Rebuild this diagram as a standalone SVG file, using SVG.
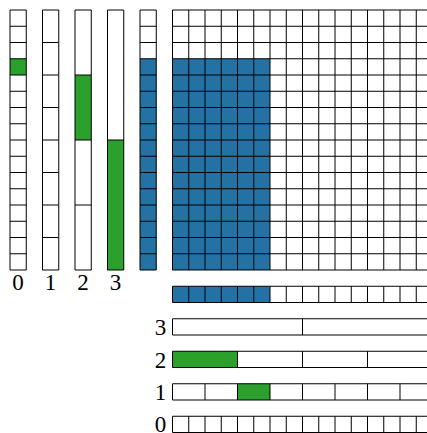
<svg xmlns="http://www.w3.org/2000/svg" width="427" height="433" viewBox="0 0 427 433">
<style>
.bg{fill:#fff;stroke:none}
.g{fill:#2ca02c;stroke:none}
.b{fill:#2471a3;stroke:none}
.ln{fill:none;stroke:#000;stroke-width:1}
.lbl{font-family:"Liberation Serif","Times New Roman",serif;font-size:23px;fill:#000;text-anchor:middle}
</style>
<rect x="0" y="0" width="427" height="433" fill="#fff"/>
<g id="col0">
<rect class="bg" x="10" y="10" width="16.25" height="260"/>
<rect class="g" x="10" y="58.75" width="16.25" height="16.25"/>
<path class="ln" d="M10 10h16.25v260h-16.25z M10 26.25h16.25 M10 42.5h16.25 M10 58.75h16.25 M10 75h16.25 M10 91.25h16.25 M10 107.5h16.25 M10 123.75h16.25 M10 140h16.25 M10 156.25h16.25 M10 172.5h16.25 M10 188.75h16.25 M10 205h16.25 M10 221.25h16.25 M10 237.5h16.25 M10 253.75h16.25"/>
<text class="lbl" x="18.1" y="290">0</text>
</g>
<g id="col1">
<rect class="bg" x="42.5" y="10" width="16.25" height="260"/>
<path class="ln" d="M42.5 10h16.25v260h-16.25z M42.5 42.5h16.25 M42.5 75h16.25 M42.5 107.5h16.25 M42.5 140h16.25 M42.5 172.5h16.25 M42.5 205h16.25 M42.5 237.5h16.25"/>
<text class="lbl" x="50.6" y="290">1</text>
</g>
<g id="col2">
<rect class="bg" x="75" y="10" width="16.25" height="260"/>
<rect class="g" x="75" y="75" width="16.25" height="65"/>
<path class="ln" d="M75 10h16.25v260h-16.25z M75 75h16.25 M75 140h16.25 M75 205h16.25"/>
<text class="lbl" x="83.1" y="290">2</text>
</g>
<g id="col3">
<rect class="bg" x="107.5" y="10" width="16.25" height="260"/>
<rect class="g" x="107.5" y="140" width="16.25" height="130"/>
<path class="ln" d="M107.5 10h16.25v260h-16.25z M107.5 140h16.25"/>
<text class="lbl" x="115.6" y="290">3</text>
</g>
<g id="col4">
<rect class="bg" x="140" y="10" width="16.25" height="260"/>
<rect class="b" x="140" y="58.75" width="16.25" height="211.25"/>
<path class="ln" d="M140 10h16.25v260h-16.25z M140 26.25h16.25 M140 42.5h16.25 M140 58.75h16.25 M140 75h16.25 M140 91.25h16.25 M140 107.5h16.25 M140 123.75h16.25 M140 140h16.25 M140 156.25h16.25 M140 172.5h16.25 M140 188.75h16.25 M140 205h16.25 M140 221.25h16.25 M140 237.5h16.25 M140 253.75h16.25"/>
</g>
<g id="grid">
<rect class="bg" x="172.5" y="10" width="260" height="260"/>
<rect class="b" x="172.5" y="58.75" width="97.5" height="211.25"/>
<path class="ln" d="M172.5 10V270 M188.75 10V270 M205 10V270 M221.25 10V270 M237.5 10V270 M253.75 10V270 M270 10V270 M286.25 10V270 M302.5 10V270 M318.75 10V270 M335 10V270 M351.25 10V270 M367.5 10V270 M383.75 10V270 M400 10V270 M416.25 10V270 M432.5 10V270 M172.5 10H432.5 M172.5 26.25H432.5 M172.5 42.5H432.5 M172.5 58.75H432.5 M172.5 75H432.5 M172.5 91.25H432.5 M172.5 107.5H432.5 M172.5 123.75H432.5 M172.5 140H432.5 M172.5 156.25H432.5 M172.5 172.5H432.5 M172.5 188.75H432.5 M172.5 205H432.5 M172.5 221.25H432.5 M172.5 237.5H432.5 M172.5 253.75H432.5 M172.5 270H432.5"/>
</g>
<g id="rowB">
<rect class="bg" x="172.5" y="286.25" width="260" height="16.25"/>
<rect class="b" x="172.5" y="286.25" width="97.5" height="16.25"/>
<path class="ln" d="M172.5 286.25h260v16.25h-260z M188.75 286.25v16.25 M205 286.25v16.25 M221.25 286.25v16.25 M237.5 286.25v16.25 M253.75 286.25v16.25 M270 286.25v16.25 M286.25 286.25v16.25 M302.5 286.25v16.25 M318.75 286.25v16.25 M335 286.25v16.25 M351.25 286.25v16.25 M367.5 286.25v16.25 M383.75 286.25v16.25 M400 286.25v16.25 M416.25 286.25v16.25"/>
</g>
<g id="row3">
<rect class="bg" x="172.5" y="318.75" width="260" height="16.25"/>
<path class="ln" d="M172.5 318.75h260v16.25h-260z M302.5 318.75v16.25"/>
<text class="lbl" x="160.5" y="335">3</text>
</g>
<g id="row2">
<rect class="bg" x="172.5" y="351.25" width="260" height="16.25"/>
<rect class="g" x="172.5" y="351.25" width="65" height="16.25"/>
<path class="ln" d="M172.5 351.25h260v16.25h-260z M237.5 351.25v16.25 M302.5 351.25v16.25 M367.5 351.25v16.25"/>
<text class="lbl" x="160.5" y="367.5">2</text>
</g>
<g id="row1">
<rect class="bg" x="172.5" y="383.75" width="260" height="16.25"/>
<rect class="g" x="237.5" y="383.75" width="32.5" height="16.25"/>
<path class="ln" d="M172.5 383.75h260v16.25h-260z M205 383.75v16.25 M237.5 383.75v16.25 M270 383.75v16.25 M302.5 383.75v16.25 M335 383.75v16.25 M367.5 383.75v16.25 M400 383.75v16.25"/>
<text class="lbl" x="160.5" y="400">1</text>
</g>
<g id="row0">
<rect class="bg" x="172.5" y="416.25" width="260" height="16.25"/>
<path class="ln" d="M172.5 416.25h260v16.25h-260z M188.75 416.25v16.25 M205 416.25v16.25 M221.25 416.25v16.25 M237.5 416.25v16.25 M253.75 416.25v16.25 M270 416.25v16.25 M286.25 416.25v16.25 M302.5 416.25v16.25 M318.75 416.25v16.25 M335 416.25v16.25 M351.25 416.25v16.25 M367.5 416.25v16.25 M383.75 416.25v16.25 M400 416.25v16.25 M416.25 416.25v16.25"/>
<text class="lbl" x="160.5" y="431.5">0</text>
</g>
<g id="connectors"></g>
</svg>
